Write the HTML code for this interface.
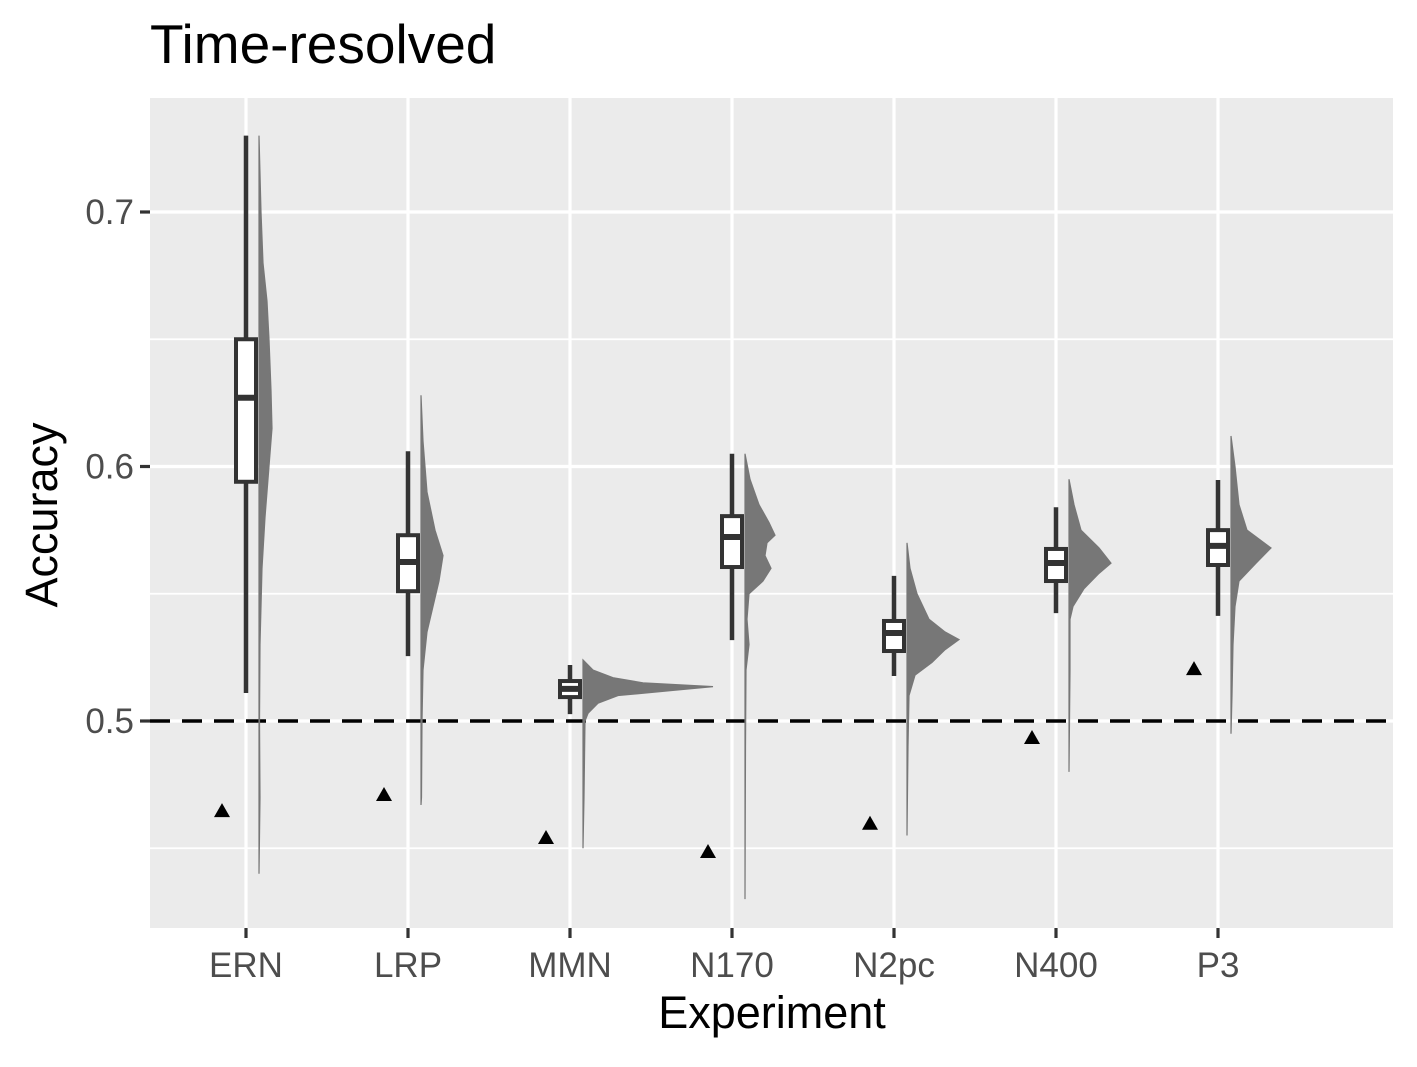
<!DOCTYPE html>
<html><head><meta charset="utf-8"><style>
body{margin:0;background:#fff}
svg text{font-family:"Liberation Sans",sans-serif}
</style></head><body>
<svg id="chart" width="1417" height="1062" xmlns="http://www.w3.org/2000/svg">
<rect width="1417" height="1062" fill="#fff"/>
<text x="150" y="63" font-size="55" fill="#000">Time-resolved</text>
<rect x="150" y="98" width="1243" height="830" fill="#ebebeb"/>
<g id="grid"></g><g id="marks"></g><g id="axes"></g>
<text x="772" y="1028" font-size="45" text-anchor="middle" fill="#000">Experiment</text>
<text transform="translate(57,515) rotate(-90)" font-size="45" text-anchor="middle" fill="#000">Accuracy</text>
</svg>
<script>
const categories=["ERN","LRP","MMN","N170","N2pc","N400","P3"];
const whiskerHigh=[0.730,0.606,0.522,0.605,0.557,0.584,0.5947];
const q3=[0.650,0.573,0.5157,0.5805,0.5393,0.5676,0.575];
const medians=[0.627,0.5625,0.5126,0.5723,0.5346,0.5621,0.5688];
const q1=[0.594,0.551,0.5094,0.5605,0.5275,0.555,0.5613];
const whiskerLow=[0.511,0.5255,0.5027,0.5318,0.5177,0.5424,0.5413];
const chanceMarker=[0.465,0.4713,0.4544,0.4489,0.460,0.4937,0.5208];
const densityValues=[
[0.73,0.70,0.68,0.665,0.65,0.63,0.615,0.60,0.58,0.56,0.53,0.50,0.47,0.44],
[0.628,0.61,0.59,0.575,0.565,0.555,0.545,0.535,0.52,0.50,0.47,0.467],
[0.524,0.52,0.517,0.515,0.5135,0.512,0.510,0.507,0.503,0.50,0.47,0.45],
[0.605,0.595,0.585,0.578,0.573,0.570,0.565,0.56,0.555,0.55,0.54,0.53,0.52,0.49,0.43],
[0.57,0.56,0.55,0.54,0.535,0.532,0.528,0.523,0.518,0.51,0.49,0.455],
[0.595,0.585,0.575,0.568,0.562,0.558,0.552,0.545,0.54,0.52,0.48],
[0.612,0.60,0.585,0.575,0.568,0.562,0.555,0.545,0.53,0.51,0.495]];
const densityWidths=[
[0,2,4,8,10,12,13,10,6,3,1,0.5,1,0],
[0,2,6,14,22,18,12,6,2,1,0.5,0],
[0,10,30,60,130,90,35,15,5,2,1,0],
[0,5,14,24,30,22,20,26,18,4,2,4,1,0.5,0],
[0,3,10,22,38,52,38,25,8,2,1,0],
[0,5,12,30,42,30,15,4,1,1,0],
[0,4,8,16,40,25,8,4,2,1,0]];
const yTicks=[0.5,0.6,0.7];
const yMinor=[0.45,0.55,0.65];
const chance=0.5;

const NS="http://www.w3.org/2000/svg";
const y=v=>721-(v-0.5)*2545;
const x=i=>246+i*162;
function mk(tag,attrs,parent){const e=document.createElementNS(NS,tag);for(const k in attrs)e.setAttribute(k,attrs[k]);document.getElementById(parent).appendChild(e);return e;}
yMinor.forEach(v=>{const e=mk("line",{x1:150,x2:1393,y1:y(v),y2:y(v),stroke:"#fff","stroke-width":1.8},"grid");

});
yTicks.forEach(v=>{const e=mk("line",{x1:150,x2:1393,y1:y(v),y2:y(v),stroke:"#fff","stroke-width":3.2},"grid");


const t=mk("line",{x1:140,x2:150,y1:y(v),y2:y(v),stroke:"#333","stroke-width":3.2},"axes");


const l=mk("text",{x:134,y:y(v)+12,"font-size":35,"text-anchor":"end",fill:"#4d4d4d"},"axes");l.textContent=v.toFixed(1);

});
categories.forEach((c,i)=>{const e=mk("line",{x1:x(i),x2:x(i),y1:98,y2:928,stroke:"#fff","stroke-width":3.2},"grid");


const t=mk("line",{x1:x(i),x2:x(i),y1:928,y2:938,stroke:"#333","stroke-width":3.2},"axes");


const l=mk("text",{x:x(i),y:977,"font-size":35,"text-anchor":"middle",fill:"#4d4d4d"},"axes");l.textContent=c;

});
const cl=mk("line",{x1:150,x2:1393,y1:y(chance),y2:y(chance),stroke:"#000","stroke-width":3.5,"stroke-dasharray":"20,12"},"marks");


categories.forEach((c,i)=>{
 const x0=x(i)+13;
 let d="M"+x0+","+y(densityValues[i][0]);
 densityValues[i].forEach((v,j)=>{d+=" L"+(x0+densityWidths[i][j])+","+y(v);});
 d+=" L"+x0+","+y(densityValues[i][densityValues[i].length-1])+" Z";
 const p=mk("path",{d:d,fill:"#777",stroke:"#777","stroke-width":1.2},"marks");
 
 
 const w=mk("line",{x1:x(i),x2:x(i),y1:y(whiskerHigh[i]),y2:y(whiskerLow[i]),stroke:"#333","stroke-width":4.5},"marks");
 
 
 const b=mk("rect",{x:x(i)-10,y:y(q3[i]),width:20,height:y(q1[i])-y(q3[i]),fill:"#fff",stroke:"#333","stroke-width":4},"marks");
 
 
 const m=mk("line",{x1:x(i)-10,x2:x(i)+10,y1:y(medians[i]),y2:y(medians[i]),stroke:"#333","stroke-width":6},"marks");
 
 
 const tx=x(i)-24,ty=y(chanceMarker[i]);
 const tr=mk("polygon",{points:`${tx-8},${ty+7} ${tx+8},${ty+7} ${tx},${ty-7}`,fill:"#000"},"marks");
 
 
});
</script>
</body></html>
